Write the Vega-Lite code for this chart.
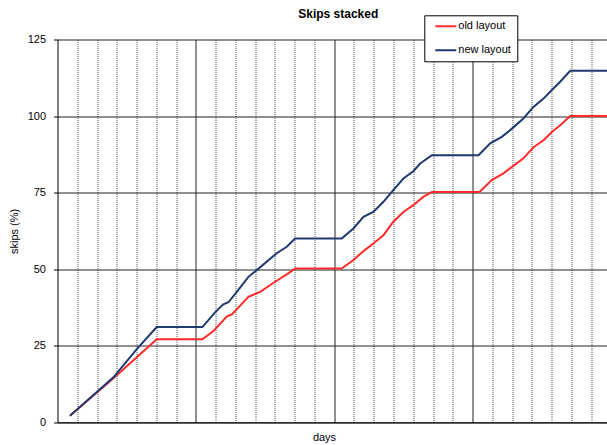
{
  "$schema": "https://vega.github.io/schema/vega-lite/v6.json",
  "width": 549.5,
  "height": 382.8,
  "autosize": {"type": "none"},
  "padding": {"left": 57.5, "top": 39.5, "right": 0, "bottom": 22.7},
  "background": "white",
  "config": {
    "font": "Liberation Sans",
    "view": {"stroke": null}
  },
  "title": {
    "text": "Skips stacked",
    "fontSize": 12,
    "fontWeight": "bold",
    "color": "black",
    "anchor": "middle",
    "frame": "group",
    "dx": 6,
    "dy": 10
  },
  "data": {
    "values": [
      {"day": 0.63, "skips": 2.15, "layout": "old layout"},
      {"day": 2.83, "skips": 14.4, "layout": "old layout"},
      {"day": 5.02, "skips": 27.1, "layout": "old layout"},
      {"day": 7.33, "skips": 27.1, "layout": "old layout"},
      {"day": 7.89, "skips": 29.8, "layout": "old layout"},
      {"day": 8.56, "skips": 34.5, "layout": "old layout"},
      {"day": 8.82, "skips": 35.2, "layout": "old layout"},
      {"day": 9.66, "skips": 41.0, "layout": "old layout"},
      {"day": 10.25, "skips": 42.6, "layout": "old layout"},
      {"day": 11.01, "skips": 45.9, "layout": "old layout"},
      {"day": 11.6, "skips": 48.3, "layout": "old layout"},
      {"day": 12.02, "skips": 50.2, "layout": "old layout"},
      {"day": 14.38, "skips": 50.2, "layout": "old layout"},
      {"day": 14.97, "skips": 53.0, "layout": "old layout"},
      {"day": 15.48, "skips": 55.9, "layout": "old layout"},
      {"day": 15.98, "skips": 58.4, "layout": "old layout"},
      {"day": 16.49, "skips": 61.1, "layout": "old layout"},
      {"day": 16.99, "skips": 65.5, "layout": "old layout"},
      {"day": 17.5, "skips": 68.7, "layout": "old layout"},
      {"day": 18.0, "skips": 70.9, "layout": "old layout"},
      {"day": 18.5, "skips": 73.6, "layout": "old layout"},
      {"day": 18.94, "skips": 75.2, "layout": "old layout"},
      {"day": 21.35, "skips": 75.2, "layout": "old layout"},
      {"day": 21.97, "skips": 79.1, "layout": "old layout"},
      {"day": 22.56, "skips": 81.3, "layout": "old layout"},
      {"day": 22.99, "skips": 83.4, "layout": "old layout"},
      {"day": 23.57, "skips": 86.2, "layout": "old layout"},
      {"day": 24.08, "skips": 89.8, "layout": "old layout"},
      {"day": 24.59, "skips": 92.1, "layout": "old layout"},
      {"day": 25.01, "skips": 94.8, "layout": "old layout"},
      {"day": 25.43, "skips": 97.0, "layout": "old layout"},
      {"day": 25.94, "skips": 100.0, "layout": "old layout"},
      {"day": 27.8, "skips": 100.0, "layout": "old layout"},
      {"day": 0.63, "skips": 2.15, "layout": "new layout"},
      {"day": 2.83, "skips": 14.7, "layout": "new layout"},
      {"day": 4.01, "skips": 23.9, "layout": "new layout"},
      {"day": 5.02, "skips": 31.1, "layout": "new layout"},
      {"day": 7.33, "skips": 31.1, "layout": "new layout"},
      {"day": 7.97, "skips": 35.9, "layout": "new layout"},
      {"day": 8.39, "skips": 38.5, "layout": "new layout"},
      {"day": 8.65, "skips": 39.2, "layout": "new layout"},
      {"day": 9.07, "skips": 42.6, "layout": "new layout"},
      {"day": 9.66, "skips": 47.5, "layout": "new layout"},
      {"day": 10.08, "skips": 49.7, "layout": "new layout"},
      {"day": 11.09, "skips": 55.2, "layout": "new layout"},
      {"day": 11.6, "skips": 57.3, "layout": "new layout"},
      {"day": 12.02, "skips": 60.0, "layout": "new layout"},
      {"day": 14.38, "skips": 60.0, "layout": "new layout"},
      {"day": 14.97, "skips": 63.3, "layout": "new layout"},
      {"day": 15.48, "skips": 67.1, "layout": "new layout"},
      {"day": 15.98, "skips": 68.7, "layout": "new layout"},
      {"day": 16.49, "skips": 72.0, "layout": "new layout"},
      {"day": 16.99, "skips": 75.8, "layout": "new layout"},
      {"day": 17.5, "skips": 79.6, "layout": "new layout"},
      {"day": 18.0, "skips": 82.0, "layout": "new layout"},
      {"day": 18.35, "skips": 84.5, "layout": "new layout"},
      {"day": 18.94, "skips": 87.2, "layout": "new layout"},
      {"day": 21.3, "skips": 87.2, "layout": "new layout"},
      {"day": 21.89, "skips": 91.1, "layout": "new layout"},
      {"day": 22.48, "skips": 93.2, "layout": "new layout"},
      {"day": 22.99, "skips": 95.9, "layout": "new layout"},
      {"day": 23.57, "skips": 99.2, "layout": "new layout"},
      {"day": 24.08, "skips": 103.0, "layout": "new layout"},
      {"day": 24.59, "skips": 105.7, "layout": "new layout"},
      {"day": 25.01, "skips": 108.5, "layout": "new layout"},
      {"day": 25.43, "skips": 111.2, "layout": "new layout"},
      {"day": 25.94, "skips": 114.8, "layout": "new layout"},
      {"day": 27.8, "skips": 114.8, "layout": "new layout"}
    ]
  },
  "mark": {"type": "line", "strokeWidth": 2, "clip": true},
  "encoding": {
    "x": {
      "field": "day",
      "type": "quantitative",
      "scale": {"domain": [0, 27.8], "nice": false, "zero": false},
      "axis": {
        "title": "days",
        "titleFontSize": 11,
        "titleFontWeight": "normal",
        "titleColor": "black",
        "titlePadding": 9,
        "titleX": 266.5,
        "labels": false,
        "ticks": false,
        "domainColor": "black",
        "values": [1,2,3,4,5,6,7,8,9,10,11,12,13,14,15,16,17,18,19,20,21,22,23,24,25,26,27],
        "grid": true,
        "gridColor": {"condition": {"test": "datum.value % 7 === 0", "value": "#222222"}, "value": "#555555"},
        "gridDash": {"condition": {"test": "datum.value % 7 === 0", "value": []}, "value": [1, 1]},
        "gridWidth": 1,
        "gridOpacity": 1
      }
    },
    "y": {
      "field": "skips",
      "type": "quantitative",
      "scale": {"domain": [0, 125], "nice": false},
      "axis": {
        "title": "skips (%)",
        "titleFontSize": 11,
        "titleFontWeight": "normal",
        "titleColor": "black",
        "titlePadding": 8,
        "values": [0, 25, 50, 75, 100, 125],
        "labelFontSize": 11,
        "labelColor": "black",
        "labelPadding": 8,
        "tickSize": 4,
        "tickColor": "black",
        "domainColor": "black",
        "grid": true,
        "gridColor": "#222222",
        "gridWidth": 1,
        "gridOpacity": 1
      }
    },
    "color": {
      "field": "layout",
      "type": "nominal",
      "scale": {"domain": ["old layout", "new layout"], "range": ["#ff2b2b", "#1f3a6e"]},
      "legend": {
        "title": null,
        "orient": "none",
        "legendX": 366.8,
        "legendY": -24.2,
        "fillColor": "white",
        "strokeColor": "black",
        "padding": 5.5,
        "symbolType": "stroke",
        "symbolSize": 441,
        "symbolStrokeWidth": 2,
        "symbolOffset": 4.5,
        "labelOffset": 1,
        "clipHeight": 11,
        "rowPadding": 12,
        "labelFontSize": 11,
        "labelColor": "black",
        "labelExpr": "datum.label + '  '"
      }
    }
  }
}
